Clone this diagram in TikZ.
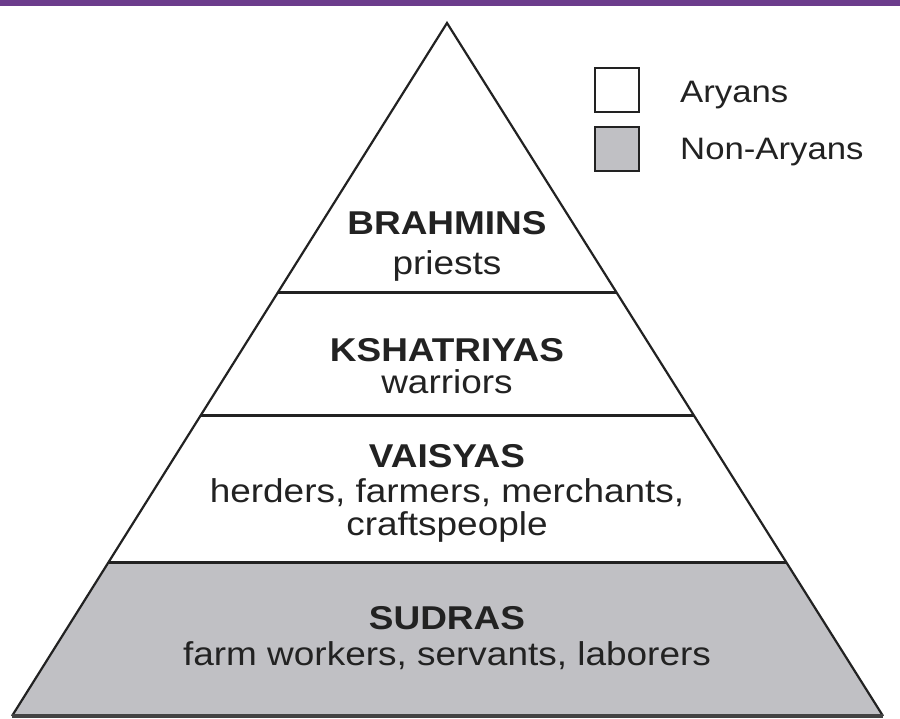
\documentclass[tikz,border=0pt]{standalone}
\usepackage{fontspec}
\setmainfont{Liberation Sans}[FakeStretch=1.12]
\usetikzlibrary{calc}
\definecolor{sudragray}{RGB}{192,192,196}
\definecolor{barpurple}{RGB}{108,60,140}
\definecolor{ink}{RGB}{34,34,34}

\begin{document}
\begin{tikzpicture}[x=1pt,y=-1pt]
        \tikzstyle{caste} = [font=\fontsize{33}{36}\selectfont\bfseries,text=ink,anchor=base,inner sep=0pt]
        \tikzstyle{duty} = [font=\fontsize{33}{36}\selectfont,text=ink,anchor=base,inner sep=0pt]
        \tikzstyle{key} = [draw=ink,line width=2pt,minimum width=44pt,minimum height=44pt,inner sep=0pt]
        \tikzstyle{keytext} = [font=\fontsize{31}{34}\selectfont,text=ink,anchor=base west,inner sep=0pt]

        \useasboundingbox (0,0) rectangle (900,719);
        \fill[barpurple] (0,0) rectangle (900,6);


        \coordinate (top) at (447,23);
        \coordinate (bl) at (12,716);
        \coordinate (br) at (883,716);
        \coordinate (l1) at ($(top)!0.3896!(bl)$);
        \coordinate (r1) at ($(top)!0.3896!(br)$);
        \coordinate (l2) at ($(top)!0.5657!(bl)$);
        \coordinate (r2) at ($(top)!0.5657!(br)$);
        \coordinate (l3) at ($(top)!0.7792!(bl)$);
        \coordinate (r3) at ($(top)!0.7792!(br)$);


        \fill[sudragray] (l3) -- (r3) -- (br) -- (bl) -- cycle;
        \draw[ink,line width=2.2pt] (bl) -- (top) -- (br);
        \draw[ink!85,line width=3.5pt] (bl) -- (br);
        \draw[ink,line width=3pt] (l1) -- (r1) (l2) -- (r2) (l3) -- (r3);


        \node[caste] (brahmins) at (447,235) {BRAHMINS};
        \node[duty] (priests) at (447,275) {priests};
        \node[caste] (kshatriyas) at (447,362) {KSHATRIYAS};
        \node[duty] (warriors) at (447,394) {warriors};
        \node[caste] (vaisyas) at (447,467) {VAISYAS};
        \node[duty] (herders) at (447,502) {herders, farmers, merchants,};
        \node[duty] (crafts) at (447,535) {craftspeople};
        \node[caste] (sudras) at (447,629) {SUDRAS};
        \node[duty] (workers) at (447,665) {farm workers, servants, laborers};


        \node[key,fill=white] (aryanbox) at (617,90) {};
        \node[key,fill=sudragray] (nonbox) at (617,149.5) {};
        \node[keytext] (aryan) at (680,103) {Aryans};
        \node[keytext] (nonaryan) at (680,160) {Non-Aryans};

    \end{tikzpicture}
\end{document}
